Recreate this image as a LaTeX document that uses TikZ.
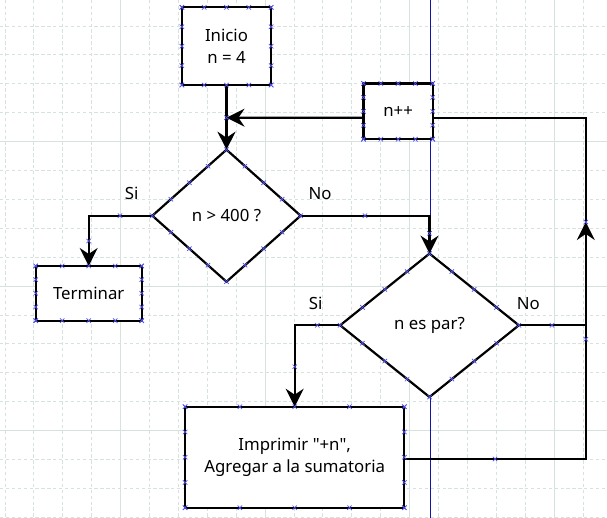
\documentclass[tikz,border=0pt]{standalone}
\usepackage{fontspec}
\setmainfont{Noto Sans}
\usetikzlibrary{shapes.geometric,arrows.meta,calc}
\definecolor{gridc}{RGB}{214,226,224}
\definecolor{vblue}{RGB}{20,20,170}
\definecolor{mkc}{RGB}{80,80,235}
\newcommand\dq{\XeTeXglyph\XeTeXcharglyph"22\relax}
\tikzset{
  txt/.style={font=\fontsize{16.8}{21.6}\selectfont},
  box/.style={draw=black, line width=2.2pt, fill=white, inner sep=0pt, outer sep=0pt, align=center, txt},
  dia/.style={box, shape=diamond},
  conn/.style={line width=2.2pt, draw=black},
  arr/.style={conn, -{Stealth[length=18pt,width=18pt,inset=6pt]}},
  lbl/.style={txt, inner sep=0pt},
  minorgrid/.style={draw=gridc, line width=0.9pt, dash pattern=on 3.3pt off 2.6pt},
  majorgrid/.style={draw=gridc, line width=0.9pt},
  mkline/.style={draw=mkc, line width=0.7pt},
}
\begin{document}
\begin{tikzpicture}[x=1pt,y=-1pt]
\useasboundingbox (0,0) rectangle (607,518);
% grid
\foreach \k in {0,...,20}{\draw[minorgrid] ({5+28.9*\k},0) -- ({5+28.9*\k},518);}
\foreach \k in {1,...,18}{\draw[minorgrid] (0,{-2.9+28.9*\k}) -- (607,{-2.9+28.9*\k});}
\foreach \k in {4,9,14,19}{\draw[majorgrid] ({5+28.9*\k},0) -- ({5+28.9*\k},518);}
\foreach \k in {5,10,15}{\draw[majorgrid] (0,{-2.9+28.9*\k}) -- (607,{-2.9+28.9*\k});}
% blue guide
\draw[vblue, line width=1pt] (430.5,0) -- (430.5,518);
% shapes
\node[box, minimum width=89.3pt, minimum height=77.7pt] (start) at (226.5,46.2) {Inicio\\n = 4};
\node[box, minimum width=69.2pt, minimum height=55.7pt] (inc) at (398.1,111.35) {n++};
\node[dia, minimum width=148.3pt, minimum height=132pt, aspect=1.12] (d1) at (226.5,215.7) {n > 400 ?};
\node[dia, minimum width=178.7pt, minimum height=143.4pt, aspect=1.25] (d2) at (429.5,325.3) {n es par?};
\node[box, minimum width=106pt, minimum height=54.7pt] (term) at (88.7,293.3) {Terminar};
\node[box, minimum width=219.3pt, minimum height=101pt] (imp) at (294.7,457.2) {Imprimir \dq+n\dq,\\Agregar a la sumatoria};
% labels
\node[lbl] (s1) at (131.7,193.5) {Si};
\node[lbl] (n1) at (320,194) {No};
\node[lbl] (s2) at (315.7,303.3) {Si};
\node[lbl] (n2) at (528.3,303.3) {No};
% connectors
\coordinate (jn) at (226.5,117.7);
\coordinate (rt) at (585.8,222);
\draw[arr] (start.south) -- (d1.north);
\draw[arr] ($(inc.west)+(0,6.35)$) -- (jn);
\draw[conn] ($(inc.east)+(0,6.35)$) -| (rt);
\draw[arr] ($(imp.east)+(0,1.8)$) -| (rt);
\draw[conn] (d2.east) -- (d2.east -| rt);
\draw[arr] (d1.east) -| (d2.north);
\draw[arr] (d1.west) -| (term.north);
\draw[arr] (d2.west) -| (imp.north);
% markers on shapes
\foreach \n in {start,inc,term,imp}{
  \foreach \t in {0,0.25,0.5,0.75,1}{
    \foreach \a/\b in {north west/north east,south west/south east,north west/south west,north east/south east}{
      \path ($(\n.\a)!\t!(\n.\b)$) coordinate (p);
      \draw[mkline] (p) ++(-2.2,-2.2) -- ++(4.4,4.4) ++(-4.4,0) -- ++(4.4,-4.4);
    }
  }
}
\foreach \n in {d1,d2}{
  \foreach \t in {0,0.25,0.5,0.75}{
    \foreach \a/\b in {north/east,east/south,south/west,west/north}{
      \path ($(\n.\a)!\t!(\n.\b)$) coordinate (p);
      \draw[mkline] (p) ++(-2.2,-2.2) -- ++(4.4,4.4) ++(-4.4,0) -- ++(4.4,-4.4);
    }
  }
}
% markers on connectors
\foreach \p in {(226.5,117.7),(120,215.7),(88.7,241),(365,215.7),(429.5,233.3),(585.8,222),(585.8,339.3),(552,325.3),(317.3,325.3),(294.7,366.7),(495,459)}{
  \draw[mkline] \p ++(-2.2,-2.2) -- ++(4.4,4.4) ++(-4.4,0) -- ++(4.4,-4.4);
}
\end{tikzpicture}
\end{document}
